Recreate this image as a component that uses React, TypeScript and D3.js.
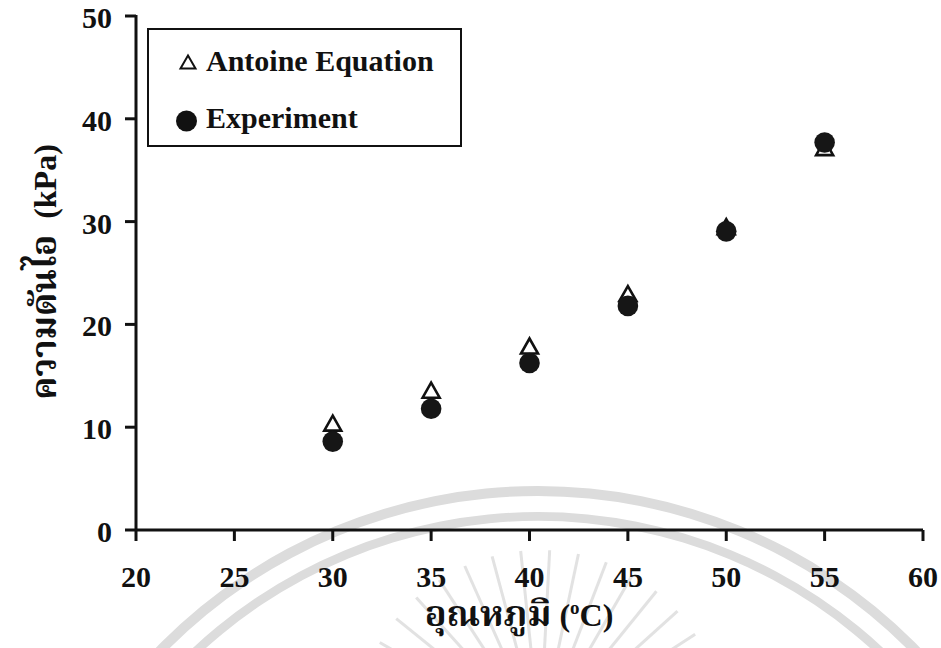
import React from "react";
import * as d3 from "d3";

// Temperature (°C) and vapour pressure (kPa)
const temperatures = [30, 35, 40, 45, 50, 55];
const antoineValues = [10.4, 13.6, 17.9, 23.0, 29.5, 37.2];
const experimentValues = [8.6, 11.8, 16.25, 21.8, 29.05, 37.7];

const xTicks = [20, 25, 30, 35, 40, 45, 50, 55, 60];
const yTicks = [0, 10, 20, 30, 40, 50];

const legendLabels = ["Antoine Equation", "Experiment"];
const xTitleThai = "อุณหภูมิ";
const yTitleThai = "ความดันไอ";
const yTitleUnit = "(kPa)";

const W = 941;
const H = 648;
const serif = "'Liberation Serif', 'Times New Roman', 'Noto Serif Thai', 'Noto Sans Thai', serif";

const x = d3.scaleLinear().domain([20, 60]).range([136, 923]);
const y = d3.scaleLinear().domain([0, 50]).range([530, 16]);

function trianglePath(cx: number, cy: number, w: number, h: number) {
  const p = d3.path();
  p.moveTo(cx, cy - h / 2);
  p.lineTo(cx + w / 2, cy + h / 2);
  p.lineTo(cx - w / 2, cy + h / 2);
  p.closePath();
  return p.toString();
}

// faint seal drawn behind the plot
function Seal() {
  const cx = 538;
  const cy = 1018;
  const arc = d3.arc();
  const rings = [
    { inner: 522, outer: 532 },
    { inner: 497, outer: 506 },
  ];
  const rayCx = 540;
  const rayCy = 735;
  const rays = d3.range(-168, -10, 9).map((deg) => (deg * Math.PI) / 180);
  return (
    <g>
      {rings.map((r, i) => (
        <path
          key={i}
          transform={`translate(${cx},${cy})`}
          d={
            arc({
              innerRadius: r.inner,
              outerRadius: r.outer,
              startAngle: -Math.PI / 2,
              endAngle: Math.PI / 2,
            }) as string
          }
          fill="#dcdcdc"
        />
      ))}
      {rays.map((a, i) => (
        <line
          key={i}
          x1={rayCx + Math.cos(a) * 70}
          y1={rayCy + Math.sin(a) * 70}
          x2={rayCx + Math.cos(a) * 185}
          y2={rayCy + Math.sin(a) * 185}
          stroke="#e2e2e2"
          strokeWidth={3}
        />
      ))}
    </g>
  );
}

export default function App() {
  return (
    <svg
      width={W}
      height={H}
      viewBox={`0 0 ${W} ${H}`}
      style={{ position: "absolute", left: 0, top: 0, background: "#fff" }}
    >
      <rect width={W} height={H} fill="#fff" />
      <Seal />

      {/* axes */}
      <g stroke="#111" strokeWidth={3} fill="none">
        <line x1={x(20)} y1={y(50) - 1} x2={x(20)} y2={y(0) + 1} />
        <line x1={x(20) - 1} y1={y(0)} x2={x(60)} y2={y(0)} />
        {yTicks.map((t) => (
          <line key={"yt" + t} x1={x(20) - 11} x2={x(20)} y1={y(t)} y2={y(t)} />
        ))}
        {xTicks.map((t) => (
          <line key={"xt" + t} x1={x(t)} x2={x(t)} y1={y(0)} y2={y(0) + 11} />
        ))}
      </g>

      <g fontFamily={serif} fontWeight="bold" fontSize={30} fill="#111">
        {yTicks.map((t) => (
          <text key={"yl" + t} x={112} y={y(t) + 12} textAnchor="end">
            {t}
          </text>
        ))}
        {xTicks.map((t) => (
          <text key={"xl" + t} x={x(t)} y={587} textAnchor="middle">
            {t}
          </text>
        ))}
      </g>

      {/* axis titles */}
      <text
        x={519}
        y={626}
        textAnchor="middle"
        fontFamily={serif}
        fontWeight="bold"
        fontSize={32}
        fill="#111"
      >
        <tspan fontSize={36}>{xTitleThai}</tspan> (
        <tspan fontSize={19} dy={-12}>
          o
        </tspan>
        <tspan dy={12}>C)</tspan>
      </text>
      <text
        transform="translate(56,272) rotate(-90)"
        textAnchor="middle"
        fontFamily={serif}
        fontWeight="bold"
        fontSize={32}
        fill="#111"
        style={{ whiteSpace: "pre" }}
      >
        <tspan fontSize={35}>{yTitleThai}</tspan>
        {"  "}
        {yTitleUnit}
      </text>

      {/* legend */}
      <rect x={148} y={29} width={313} height={117} fill="#fff" stroke="#111" strokeWidth={2} />
      <path d={trianglePath(188, 62, 15, 13)} fill="#fff" stroke="#111" strokeWidth={2} />
      <circle cx={186.5} cy={121} r={10.5} fill="#111" />
      <g fontFamily={serif} fontWeight="bold" fontSize={30} fill="#111">
        <text x={206} y={71}>{legendLabels[0]}</text>
        <text x={206} y={128}>{legendLabels[1]}</text>
      </g>

      {/* data */}
      {temperatures.map((t, i) => (
        <path
          key={"a" + t}
          d={trianglePath(x(t), y(antoineValues[i]), 17, 15)}
          fill="#fff"
          stroke="#111"
          strokeWidth={2.6}
          strokeLinejoin="miter"
        />
      ))}
      {temperatures.map((t, i) => (
        <circle key={"e" + t} cx={x(t)} cy={y(experimentValues[i])} r={10.3} fill="#161616" />
      ))}
    </svg>
  );
}
